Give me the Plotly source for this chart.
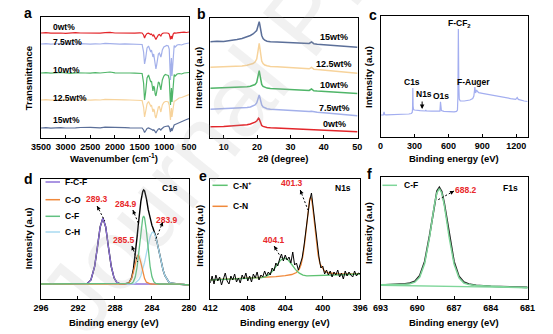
import plotly.graph_objects as go

W, H = 553, 334
FONT = "Liberation Sans, Arial, sans-serif"

# ---------------- (a) FTIR spectra ----------------
wavenumber = [3500, 3400, 3300, 3200, 3100, 3000, 2900, 2800, 2700, 2600, 2500, 2400, 2300, 2200, 2100,
              2000, 1900, 1800, 1700, 1600, 1500, 1450, 1420, 1400, 1380, 1350, 1320, 1290, 1275, 1260,
              1245, 1230, 1215, 1200, 1185, 1170, 1155, 1140, 1120, 1100, 1085, 1070, 1055, 1040, 1010,
              980, 950, 920, 900, 885, 875, 865, 855, 845, 835, 820, 800, 780, 760, 740, 700, 650, 600,
              550, 500]
ftir_0 = [105, 105.3, 104.8, 105.2, 105, 104.7, 105.1, 105.4, 105, 104.8, 105.2, 105, 104.9, 105.3, 105.6,
          105, 104.8, 105.1, 105, 104.9, 105.2, 105, 103, 100, 102.5, 104.5, 104.8, 104, 103.5, 104,
          103, 102, 103, 101.5, 99, 98.5, 100, 101.5, 103, 103.5, 103, 102, 103.5, 104.5, 105,
          105.2, 105, 104.8, 104, 101, 98.5, 101, 102, 99, 101.5, 104, 105, 104.5, 104.8, 105.2, 105.5,
          105.3, 105.8, 105.5, 106]
ftir_75 = [94, 94.3, 93.8, 94.2, 94.5, 94, 93.7, 94.1, 94.4, 94, 93.8, 94.2, 94, 94.6, 94.3,
           94, 93.9, 94.2, 94, 93.8, 94.1, 93.5, 86, 74, 79, 90, 92, 88, 86, 88,
           84, 81, 84, 80, 72, 69, 73, 80, 84, 85, 83, 81, 84, 88, 91,
           92, 92.5, 92, 89, 70, 58, 72, 80, 62, 70, 88, 92.5, 91, 92, 93, 93.5,
           93, 94, 94.5, 95]
ftir_10 = [65, 65.3, 64.8, 65.2, 65.5, 65, 64.7, 65.2, 65.4, 65, 64.8, 65.3, 65, 65.6, 66,
           65.2, 64.9, 65.2, 65, 64.8, 65.1, 64.5, 55, 38, 45, 60, 63, 58, 56, 57,
           51, 47, 52, 50, 44, 42, 46, 53, 56, 55, 51, 48, 53, 58, 62,
           63.5, 63, 62.5, 59, 40, 33, 42, 50, 36, 44, 59, 63.5, 62, 63, 64, 64.5,
           64, 65, 65.5, 65.5]
ftir_125 = [38, 38.3, 37.8, 38.2, 38.4, 38, 37.7, 38.1, 38.5, 38, 37.8, 38.2, 38, 38.6, 38.3,
            38, 37.8, 38.1, 38, 37.9, 38.1, 37.5, 31, 21, 26, 34, 36.5, 33, 32, 33,
            29, 26, 29, 27, 22, 20, 23, 28, 31, 31.5, 28.5, 26, 29.5, 33, 35.5,
            36.5, 36.5, 36, 33, 24, 18, 25, 30, 21, 26, 34, 37, 37, 38, 39, 40,
            40.5, 41.5, 42.5, 43.5]
ftir_15 = [10, 10.3, 9.8, 10.2, 10.4, 10, 9.7, 10.1, 10.5, 10.2, 10.6, 10.4, 10.2, 10.8, 10.5,
           10.2, 10, 10.3, 10.1, 10, 10.3, 10, 8, 5.5, 7, 9.5, 10, 9.2, 9, 9.2,
           8.3, 7.5, 8.2, 7.5, 6, 5, 6.5, 8, 9, 9.3, 8.6, 8, 9, 10, 11,
           11.5, 11.8, 12, 11, 8, 6, 8.5, 10, 7, 9, 12, 13, 13.5, 14, 14.5, 15.5,
           16.5, 17.5, 18.5, 19.5]

# ---------------- (b) XRD patterns ----------------
two_theta = [6, 8, 10, 12, 14, 15.5, 17, 18, 18.8, 19.4, 19.9, 20.2, 20.45, 20.65, 20.85, 21.1, 21.4, 21.8,
             22.3, 23, 24, 26, 28, 30, 32, 34, 35.6, 36.3, 37, 38, 40, 42, 44, 46, 48, 50]
xrd_15 = [96.3, 96.8, 96.5, 97.3, 98.5, 99.5, 101, 102.5, 104, 105.5, 107.5, 111, 115.5, 116.3, 113, 107, 102.5,
          99.5, 97.8, 96.8, 96.2, 95.9, 95.5, 95, 94.8, 94.4, 94.6, 96, 94.3, 93.8, 93.3, 92.8, 92.3, 91.8,
          91.3, 90.8]
xrd_125 = [70.7, 71, 70.8, 71.3, 71.6, 72, 72.8, 73.5, 74.5, 76, 79, 85, 92, 94.7, 90, 82, 77, 74.5,
           73, 72.2, 71.6, 71.2, 70.7, 70.2, 69.8, 69.3, 69.2, 70.5, 68.8, 68.4, 67.8, 67.3, 66.7, 66.1,
           65.4, 64.8]
xrd_10 = [49.7, 50, 49.8, 50.2, 50.5, 50.8, 51.3, 51.8, 52.5, 53.5, 55.5, 59.5, 65, 67.3, 63.5, 57.5, 53.5,
          51.5, 50.5, 49.9, 49.5, 49.1, 48.7, 48.3, 48, 47.6, 47.5, 49, 47.2, 46.9, 46.5, 46.1, 45.7, 45.3,
          44.9, 44.6]
xrd_75 = [28.7, 29, 28.8, 29.3, 29.6, 30, 30.5, 31, 31.8, 33, 35, 38.5, 42, 43, 40.5, 36, 33, 31,
          30, 29.3, 28.8, 28.3, 27.9, 27.5, 27.1, 26.7, 26.4, 26.8, 26.1, 25.8, 25.2, 24.7, 24.1, 23.5,
          22.9, 22.3]
xrd_0 = [11.3, 11.8, 11.6, 12, 12.3, 12.7, 13.3, 14, 14.8, 15.8, 17, 18.5, 19.7, 19, 16.5, 14, 12.5, 11.6,
         11, 10.6, 10.3, 10, 9.8, 9.6, 9.4, 9.1, 8.9, 9, 8.7, 8.4, 8, 7.6, 7.3, 7, 6.7, 6.3]

# ---------------- (c) XPS survey ----------------
survey_be = [0, 15, 25, 31, 37, 50, 100, 150, 200, 250, 272, 280, 283, 285.5, 288, 292, 300, 350, 395, 400,
             405, 450, 500, 525, 530, 534, 538, 560, 600, 650, 672, 680, 684, 688, 692, 696, 705, 740, 790,
             815, 825, 834, 840, 849, 858, 868, 900, 950, 1000, 1050, 1100, 1150, 1195, 1208, 1218, 1240,
             1270, 1300]
survey_int = [22, 22.2, 22.1, 25, 22.3, 22.2, 22.3, 22.5, 22.6, 23, 23.5, 24.5, 28, 49, 31, 27.5, 27, 26.3,
              26, 27, 26, 25.8, 25.6, 25.8, 35.3, 28, 26.5, 25.6, 25.3, 25.2, 25.6, 27, 40, 108, 52, 38, 36,
              36, 37, 38.5, 41, 50, 44, 47, 45.5, 44.3, 43.7, 42.5, 41.3, 40.3, 39.3, 38.4, 37.6, 39.5,
              37.6, 36.8, 36, 35.5]

# ---------------- (d) C1s ----------------
c1s_be = [296, 292, 291, 290.6, 290.2, 289.9, 289.6, 289.3, 289.0, 288.7, 288.4, 288.1, 287.8, 287.5, 287.0,
          286.5, 286.2, 286.0, 285.8, 285.6, 285.5, 285.4, 285.2, 285.0, 284.9, 284.8, 284.6, 284.4, 284.2,
          284.0, 283.9, 283.8, 283.6, 283.4, 283.2, 283.0, 282.8, 282.6, 282.4, 282.2, 282.0, 281.5, 281.0,
          280.0]
c1s_env = [15, 15, 15.6, 19.1, 32.5, 51.6, 72, 81, 72, 51.6, 32.5, 21.2, 16.6, 15.3, 15,
           16.0, 21.2, 30.1, 44.5, 62.8, 72.3, 81.5, 97.6, 107.4, 109, 108.1, 100.4, 89.1, 79.8,
           73.6, 71.3, 68.8, 62.8, 54.7, 45.6, 36.6, 29, 23.3, 19.5, 17.3, 16, 15.1, 14.8, 14]
c1s_fcf = [15, 15, 15.6, 19.1, 32.5, 51.6, 72, 81, 72, 51.6, 32.5, 21.2, 16.6, 15.3, 15,
           15, 15, 15, 15, 15, 15, 15, 15, 15, 15, 15, 15, 15, 15,
           15, 15, 15, 15, 15, 15, 15, 15, 15, 15, 15, 15, 15, 14.8, 14]
c1s_co = [15, 15, 15, 15, 15, 15, 15, 15, 15, 15, 15, 15, 15, 15, 15,
          15.9, 20.4, 27.3, 36.3, 43, 44, 43, 36.3, 27.3, 23.4, 20.4, 16.8, 15.5, 15.1,
          15, 15, 15, 15, 15, 15, 15, 15, 15, 15, 15, 15, 15, 14.8, 14]
c1s_cf = [15, 15, 15, 15, 15, 15, 15, 15, 15, 15, 15, 15, 15, 15, 15,
          15.1, 15.6, 17.4, 22.2, 32.5, 40.1, 49, 68, 81.1, 83, 81.1, 68, 49, 32.5,
          22.2, 19.3, 17.4, 15.6, 15.1, 15, 15, 15, 15, 15, 15, 15, 15, 14.8, 14]
c1s_ch = [15, 15, 15, 15, 15, 15, 15, 15, 15, 15, 15, 15, 15, 15, 15,
          15, 15.2, 15.4, 16.0, 17.3, 18.2, 19.5, 23.3, 29, 32.6, 36.6, 45.6, 54.6, 62.2,
          66.4, 67, 66.4, 62.2, 54.6, 45.6, 36.6, 29, 23.3, 19.5, 17.3, 16.0, 15.1, 14.8, 14]

# ---------------- (e) N1s ----------------
n1s_be = [412.0, 411.8, 411.6, 411.4, 411.2, 411.0, 410.8, 410.6, 410.4, 410.2,
          410.0, 409.8, 409.6, 409.4, 409.2, 409.0, 408.8, 408.6, 408.4, 408.2,
          408.0, 407.8, 407.6, 407.4, 407.2, 407.0, 406.8, 406.6, 406.4, 406.2,
          406.0, 405.8, 405.6, 405.4, 405.2, 405.0, 404.8, 404.6, 404.4, 404.2,
          404.0, 403.8, 403.6, 403.4, 403.2, 403.0, 402.8, 402.6, 402.4, 402.2,
          402.0, 401.8, 401.6, 401.4, 401.2, 401.0, 400.8, 400.6, 400.4, 400.2,
          400.0, 399.8, 399.6, 399.4, 399.2, 399.0, 398.8, 398.6, 398.4, 398.2,
          398.0, 397.8, 397.6, 397.4, 397.2, 397.0, 396.8, 396.6, 396.4, 396.2, 396.0]
n1s_raw = [16, 23, 15, 24, 18, 22, 14, 21, 26, 18,
           15, 23, 19, 25, 17, 21, 16, 24, 20, 26,
           18, 23, 17, 25, 21, 27, 19, 24, 22, 28,
           23, 27, 24, 31, 28, 36, 33, 40, 45, 38,
           44, 39, 42, 36, 47, 34, 36, 29, 35, 41,
           53, 69, 88, 98, 106, 90, 70, 52, 42, 31,
           33, 25, 29, 24, 28, 22, 27, 24, 29, 22,
           26, 20, 28, 23, 27, 24, 22, 28, 23, 26, 25]
cn_be = [412, 410, 408, 406, 405, 404, 403.3, 402.8, 402.5, 402.3, 402.1, 401.9, 401.7, 401.6, 401.5,
         401.4, 401.3, 401.2, 401.1, 401.0, 400.9, 400.7, 400.5, 400.3, 399.8, 399.3, 398.3, 397, 396]
cn_fit = [19.1, 19.9, 20.7, 21.7, 22.3, 23.3, 24.5, 26.5, 29.8, 34.7, 43.8, 58.0, 76.4, 85.9, 94.0,
          99.9, 102.0, 100.0, 94.2, 86.1, 76.7, 58.4, 44.4, 35.5, 27.6, 26.0, 25.1, 25.1, 25.35]
cnp_be = [412, 410, 408, 407, 406.5, 406.1, 405.7, 405.3, 404.9, 404.5, 404.1, 403.7, 403.3, 402.9, 402.5,
          402.1, 401.7, 400, 398, 396]
cnp_fit = [19, 19.75, 20.5, 21.0, 21.4, 22.4, 24.6, 28.5, 33.9, 38.8, 41.0, 39.1, 34.5, 29.4, 25.8,
           23.9, 23.2, 23.5, 24.25, 25]

# ---------------- (f) F1s ----------------
f1s_be = [693, 692, 691, 690.6, 690.2, 689.8, 689.4, 689.0, 688.8, 688.6, 688.4, 688.2, 688.0, 687.8, 687.6,
          687.4, 687.0, 686.6, 686.2, 685.8, 685.2, 684, 683, 681]
f1s_raw = [14.0, 14.3, 15.2, 15.9, 17.8, 23.5, 37.5, 63.5, 80, 96, 108, 111.8, 107.5, 96, 80.5,
           64, 37.5, 22.8, 17, 14.9, 13.6, 12.7, 12.2, 11.6]
f1s_cf = [14.2, 14.3, 14.8, 15.3, 16.8, 21.9, 35.5, 61.8, 78.4, 94.3, 106.2, 110.5, 106.1, 94.2, 78.1,
          61.5, 35.0, 21.2, 16.0, 14.4, 13.4, 12.6, 12.15, 11.55]
f1s_bg_be = [693, 681]
f1s_bg = [13.7, 11.3]

# ---------------- colours ----------------
RED, LBLUE, GREEN, PEACH, SLATE = "#e3262b", "#a3b0ea", "#4fb568", "#f7d39b", "#5b6f99"
SURVEY = "#a3aef0"
PURPLE, ORANGE, CFGREEN, CYAN = "#8e72d8", "#f0893b", "#62c182", "#a8daf0"
CNP_GREEN, F_GREEN = "#5fc272", "#7fd69a"
LABEL_RED = "#e8282b"

# panel boxes in pixels: (left, right, top, bottom)
boxes = {
    "a": (32, 185, 17, 138),
    "b": (207, 360, 18, 138),
    "c": (383, 535, 16, 137),
    "d": (32, 185, 179, 299),
    "e": (207, 362, 179, 299),
    "f": (383, 535, 177, 299),
}
axis_ids = {"a": "", "b": "2", "c": "3", "d": "4", "e": "5", "f": "6"}

fig = go.Figure()


def add(panel, x, y, color, width=1.2, dash=None):
    k = axis_ids[panel]
    fig.add_trace(go.Scatter(x=x, y=y, mode="lines", xaxis="x" + k, yaxis="y" + k,
                             line=dict(color=color, width=width, dash=dash),
                             hoverinfo="skip", showlegend=False))


# (a)
for ys, c in [(ftir_0, RED), (ftir_75, LBLUE), (ftir_10, GREEN), (ftir_125, PEACH), (ftir_15, SLATE)]:
    add("a", wavenumber, ys, c, 1.2)
# (b)
for ys, c in [(xrd_15, SLATE), (xrd_125, PEACH), (xrd_10, GREEN), (xrd_75, LBLUE), (xrd_0, RED)]:
    add("b", two_theta, ys, c, 1.5)
# (c)
add("c", survey_be, survey_int, SURVEY, 1.2)
# (d)
add("d", c1s_be, c1s_env, "black", 1.4)
add("d", c1s_be, c1s_fcf, PURPLE, 1.3)
add("d", c1s_be, c1s_ch, CYAN, 1.3)
add("d", c1s_be, c1s_co, ORANGE, 1.3)
add("d", c1s_be, c1s_cf, CFGREEN, 1.3)
# (e)
add("e", cn_be, cn_fit, ORANGE, 1.3)
add("e", cnp_be, cnp_fit, CNP_GREEN, 1.3)
add("e", n1s_be, n1s_raw, "black", 1.0)
# (f)
add("f", f1s_be, f1s_raw, "#222222", 1.6)
add("f", f1s_bg_be, f1s_bg, F_GREEN, 1.4)
add("f", f1s_be, f1s_cf, F_GREEN, 1.5)

x_cfg = {
    "a": dict(range=[3500, 500], tickvals=[3500, 3000, 2500, 2000, 1500, 1000, 500]),
    "b": dict(range=[6, 50.3], tickvals=[10, 20, 30, 40, 50]),
    "c": dict(range=[0, 1300], tickvals=[0, 300, 600, 900, 1200]),
    "d": dict(range=[296, 280], tickvals=[296, 292, 288, 284, 280]),
    "e": dict(range=[412, 396], tickvals=[412, 408, 404, 400, 396]),
    "f": dict(range=[693, 681], tickvals=[693, 690, 687, 684, 681]),
}
y_rng = {"a": [0, 121], "b": [0, 120], "c": [0, 121], "d": [0, 120], "e": [0, 120], "f": [0, 122]}

layout = dict(width=W, height=H, margin=dict(l=0, r=0, t=0, b=0),
              paper_bgcolor="white", plot_bgcolor="white", showlegend=False)
for p, (x0, x1, y0, y1) in boxes.items():
    k = axis_ids[p]
    layout["xaxis" + k] = dict(domain=[x0 / W, x1 / W], anchor="y" + k, showgrid=False, zeroline=False,
                               showline=True, mirror=True, linecolor="black", linewidth=1,
                               ticks="inside", ticklen=3, tickwidth=1, tickcolor="black",
                               tickfont=dict(family=FONT, size=9, color="black", weight="bold"),
                               **x_cfg[p])
    layout["yaxis" + k] = dict(domain=[1 - y1 / H, 1 - y0 / H], anchor="x" + k, range=y_rng[p],
                               showgrid=False, zeroline=False, showline=True, mirror=True,
                               linecolor="black", linewidth=1, showticklabels=False, ticks="")


def txt(text, x, y, size=9, color="black", xanchor="center", angle=0, weight="bold"):
    return dict(text=text, x=x / W, y=1 - y / H, xref="paper", yref="paper", showarrow=False,
                xanchor=xanchor, yanchor="middle", textangle=angle,
                font=dict(family=FONT, size=size, color=color, weight=weight))


anns = []
# faint diagonal watermark
anns.append(dict(text="Journal Pre-proof", x=303 / W, y=1 - 17 / H, xref="paper", yref="paper",
                 showarrow=False, textangle=-51, xanchor="center", yanchor="middle",
                 font=dict(family=FONT, size=100, color="rgba(170,170,170,0.16)")))

# panel letters
for t, x, y in [("a", 19, 13), ("b", 198, 14), ("c", 375, 15), ("d", 19, 179), ("e", 200, 176), ("f", 372, 174)]:
    anns.append(txt(t, x, y, size=14))

# axis titles
anns += [
    txt("Transmittance", 20, 78, 9.5, angle=-90),
    txt("Wavenumber (cm<sup>-1</sup>)", 108, 158, 9.5),
    txt("Intensity (a.u)", 195, 78, 9.5, angle=-90),
    txt("2θ (degree)", 283, 158, 9.5),
    txt("Intensity (a.u)", 370, 77, 9.5, angle=-90),
    txt("Binding energy (eV)", 459, 158, 9.5),
    txt("Intensity (a.u)", 20, 238, 9.5, angle=-90),
    txt("Binding energy (eV)", 108, 322, 9.5),
    txt("Intensity (a.u)", 195, 236, 9.5, angle=-90),
    txt("Binding energy (eV)", 284, 322, 9.5),
    txt("Intensity (a.u)", 370, 233, 9.5, angle=-90),
    txt("Binding energy (eV)", 459, 322, 9.5),
]

# sample labels
for t, y in [("0wt%", 27), ("7.5wt%", 42), ("10wt%", 69.5), ("12.5wt%", 98), ("15wt%", 120)]:
    anns.append(txt(t, 42, y, 8.5, xanchor="left"))
for t, y in [("15wt%", 37), ("12.5wt%", 64.5), ("10wt%", 85.5), ("7.5wt%", 108), ("0wt%", 123.5)]:
    anns.append(txt(t, 335, y, 9))

# survey peak labels
anns += [
    txt("F-CF<sub>2</sub>", 465, 23, 8.5),
    txt("C1s", 416, 82, 8.5),
    txt("N1s", 428, 94, 8.5),
    txt("O1s", 445, 96, 8.5),
    txt("F-Auger", 479, 82, 8.5),
]
anns.append(dict(x=426 / W, y=1 - 109 / H, ax=0, ay=-9, xref="paper", yref="paper", text="",
                 showarrow=True, arrowhead=2, arrowsize=0.9, arrowwidth=1, arrowcolor="black"))

# core-level labels
anns += [
    txt("C1s", 165, 188, 8.5),
    txt("N1s", 344, 188, 8.5),
    txt("F1s", 517, 188, 8.5),
    txt("289.3", 89.6, 198.5, 8.5, color=LABEL_RED),
    txt("284.9", 120, 204, 8.5, color=LABEL_RED),
    txt("283.9", 162, 220, 8.5, color=LABEL_RED),
    txt("285.5", 118, 240, 8.5, color=LABEL_RED),
    txt("401.3", 291.7, 183.3, 8.5, color=LABEL_RED),
    txt("404.1", 273.3, 240, 8.5, color=LABEL_RED),
    txt("688.2", 471, 189.7, 8.5, color=LABEL_RED),
]

# legend entries drawn as short lines + labels
shapes = []
legend_items = [
    (36.7, 51.7, 182, PURPLE, "F-C-F", 55), (36.7, 51.7, 199.7, ORANGE, "C-O", 55),
    (36.7, 51.7, 216.3, CFGREEN, "C-F", 55), (36.7, 51.7, 232, CYAN, "C-H", 55),
    (209.3, 225, 185.3, CNP_GREEN, "C-N<sup>+</sup>", 228.3), (209.3, 225, 206.3, ORANGE, "C-N", 228.3),
    (385, 400, 185.3, F_GREEN, "C-F", 405),
]
for x0, x1, y, c, label, tx in legend_items:
    shapes.append(dict(type="line", xref="paper", yref="paper", x0=x0 / W, x1=x1 / W,
                       y0=1 - y / H, y1=1 - y / H, line=dict(color=c, width=1.5)))
    anns.append(txt(label, tx, y, 8.5, xanchor="left"))

# dashed pointer arrows: (head_x, head_y, tail_x, tail_y)
pointers = [(90, 206, 98, 221), (127, 210, 133, 224), (126, 246, 132, 262), (158, 222, 150, 241),
            (300, 190, 308, 210), (273, 246, 281, 259), (459, 191, 442, 200)]
for hx, hy, tx, ty in pointers:
    shapes.append(dict(type="line", xref="paper", yref="paper", x0=hx / W, y0=1 - hy / H,
                       x1=tx / W, y1=1 - ty / H, line=dict(color="black", width=1, dash="2px,2px")))
    dx, dy = tx - hx, ty - hy
    n = (dx * dx + dy * dy) ** 0.5
    anns.append(dict(x=hx / W, y=1 - hy / H, xref="paper", yref="paper", ax=dx / n * 4, ay=dy / n * 4,
                     text="", showarrow=True, arrowhead=2, arrowsize=0.8, arrowwidth=1,
                     arrowcolor="black", standoff=0))

layout["annotations"] = anns
layout["shapes"] = shapes
fig.update_layout(**layout)
fig.write_html("out.html")
